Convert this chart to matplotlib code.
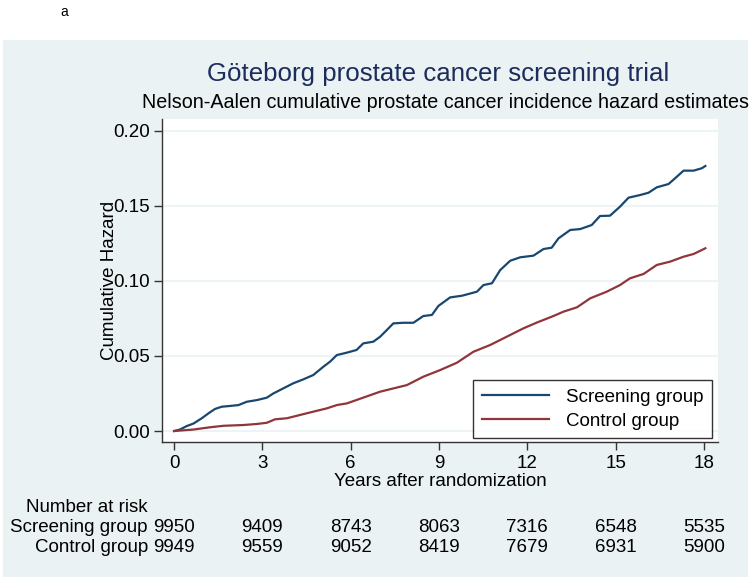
import matplotlib
matplotlib.use("Agg")
import matplotlib.pyplot as plt
from matplotlib.patches import Rectangle
from matplotlib.transforms import blended_transform_factory

# Nelson-Aalen curves (years, cumulative hazard)
scr_t = [0, 0.2, 0.43, 0.66, 0.94, 1.17, 1.39, 1.62, 1.9, 2.19, 2.47, 2.81, 3.15,
         3.37, 3.71, 4.05, 4.39, 4.73, 5.07, 5.3, 5.53, 5.87, 6.2, 6.43, 6.77, 7.0,
         7.23, 7.45, 7.79, 8.13, 8.47, 8.76, 8.98, 9.38, 9.78, 10.29, 10.51, 10.8,
         11.08, 11.42, 11.76, 12.21, 12.55, 12.83, 13.06, 13.46, 13.8, 14.19, 14.47,
         14.81, 15.15, 15.44, 15.84, 16.12, 16.4, 16.8, 17.02, 17.31, 17.65, 17.93, 18.05]
scr_h = [0, 0.001, 0.0033, 0.005, 0.0085, 0.0118, 0.0147, 0.0162, 0.0167, 0.0173, 0.0195,
         0.0206, 0.0222, 0.025, 0.0284, 0.0318, 0.0344, 0.0373, 0.0428, 0.0462, 0.0506,
         0.0522, 0.054, 0.0584, 0.0595, 0.0628, 0.0673, 0.0717, 0.0721, 0.0721, 0.0766,
         0.0773, 0.0833, 0.089, 0.0901, 0.0928, 0.0972, 0.0984, 0.1072, 0.1134, 0.1157,
         0.1168, 0.1212, 0.1221, 0.1283, 0.1339, 0.1345, 0.1372, 0.1432, 0.1434, 0.1494,
         0.1554, 0.1572, 0.1587, 0.1623, 0.1645, 0.1683, 0.1734, 0.1734, 0.175, 0.1765]

ctl_t = [0, 0.66, 1.22, 1.68, 2.35, 2.81, 3.15, 3.43, 3.83, 4.28, 4.73, 5.19, 5.53,
         5.87, 6.32, 7.0, 7.91, 8.47, 9.04, 9.61, 10.17, 10.74, 11.3, 11.87, 12.32,
         12.89, 13.23, 13.69, 14.14, 14.7, 15.15, 15.49, 15.95, 16.4, 16.85, 17.31,
         17.65, 18.05]
ctl_h = [0, 0.001, 0.0025, 0.0035, 0.004, 0.0047, 0.0055, 0.0078, 0.0085, 0.0107, 0.0129,
         0.0151, 0.0173, 0.0184, 0.0215, 0.0262, 0.0306, 0.0362, 0.0406, 0.0455, 0.0528,
         0.0573, 0.0628, 0.0684, 0.0722, 0.0766, 0.0795, 0.0824, 0.0884, 0.0928, 0.0972,
         0.1017, 0.1046, 0.1106, 0.1128, 0.1161, 0.1179, 0.1217]

risk_years = [0, 3, 6, 9, 12, 15, 18]
risk_screen = [9950, 9409, 8743, 8063, 7316, 6548, 5535]
risk_control = [9949, 9559, 9052, 8419, 7679, 6931, 5900]

plt.rcParams["font.family"] = ["Liberation Sans", "DejaVu Sans"]

W, H = 750, 583
fig = plt.figure(figsize=(W / 100, H / 100), dpi=100)
fig.patch.set_facecolor("white")

# stata-ish background panel
fig.patches.append(Rectangle((3 / W, 1 - 577 / H), 745 / W, 537 / H,
                             transform=fig.transFigure, facecolor="#eaf2f3",
                             edgecolor="none", zorder=-5))

ax = fig.add_axes([162 / W, 1 - 442 / H, (718 - 162) / W, (442 - 119) / H])
ax.set_facecolor("white")
navy, maroon = "#1a476f", "#90353b"
ax.plot(scr_t, scr_h, color=navy, lw=1.6, label="Screening group")
ax.plot(ctl_t, ctl_h, color=maroon, lw=1.6, label="Control group")

ax.set_xlim(-0.41, 18.48)
ax.set_ylim(-0.0073, 0.2078)
ax.set_xticks(risk_years)
ax.set_yticks([0, 0.05, 0.10, 0.15, 0.20])
ax.set_yticklabels(["0.00", "0.05", "0.10", "0.15", "0.20"])
ax.grid(axis="y", color="#eaf2f3", lw=1.2)
ax.set_axisbelow(True)
for s in ["top", "right"]:
    ax.spines[s].set_visible(False)
for s in ["left", "bottom"]:
    ax.spines[s].set_color("#333333")
    ax.spines[s].set_linewidth(1.0)
ax.tick_params(labelsize=13.5, length=6, width=1.0, color="#333333", pad=3)

ax.set_xlabel("Years after randomization", fontsize=13.5, labelpad=1)
ax.set_ylabel("Cumulative Hazard", fontsize=13.5)
ax.yaxis.set_label_coords(-0.08, 0.5)

leg = ax.legend(loc="lower right", bbox_to_anchor=(712 / W, 1 - 438 / H),
                bbox_transform=fig.transFigure, fontsize=13.5, frameon=True,
                fancybox=False, handlelength=3.6, borderpad=0.45,
                labelspacing=0.35, handletextpad=0.9, borderaxespad=0)
leg.get_frame().set_edgecolor("black")
leg.get_frame().set_linewidth(1.0)

fig.text(64 / W, 1 - 12 / H, "a", fontsize=10, ha="center", va="center")
fig.text(438 / W, 1 - 74 / H, "Göteborg prostate cancer screening trial",
         fontsize=18.6, color="#1c2c5c", ha="center", va="center")
fig.text(446 / W, 1 - 103 / H,
         "Nelson-Aalen cumulative prostate cancer incidence hazard estimates",
         fontsize=14.2, ha="center", va="center")

# number at risk table
tr = blended_transform_factory(ax.transData, fig.transFigure)
fig.text(26 / W, 1 - 507 / H, "Number at risk", fontsize=13.5, ha="left", va="center")
fig.text(148 / W, 1 - 527 / H, "Screening group", fontsize=13.5, ha="right", va="center")
fig.text(148 / W, 1 - 548 / H, "Control group", fontsize=13.5, ha="right", va="center")
for yr, a, b in zip(risk_years, risk_screen, risk_control):
    ax.text(yr, 1 - 527 / H, str(a), transform=tr, fontsize=13.5,
            ha="center", va="center", clip_on=False)
    ax.text(yr, 1 - 548 / H, str(b), transform=tr, fontsize=13.5,
            ha="center", va="center", clip_on=False)

fig.savefig("out.png", dpi=100)
